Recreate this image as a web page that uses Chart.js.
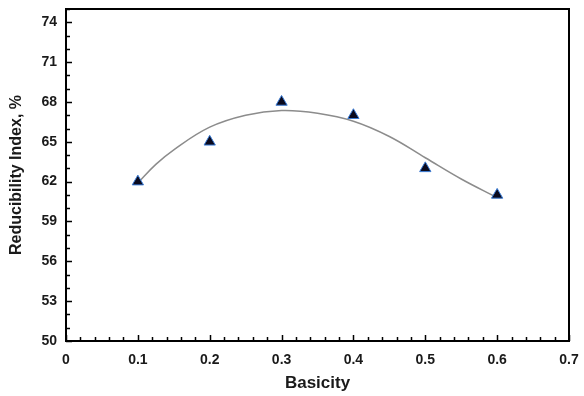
<!DOCTYPE html>
<html>
<head>
<meta charset="utf-8">
<script src="https://cdn.jsdelivr.net/npm/chart.js@4.4.1/dist/chart.umd.min.js"></script>
<style>
  html, body { margin: 0; padding: 0; background: #fff; }
  #wrap { width: 584px; height: 396px; position: relative; }
</style>
</head>
<body>
<div id="wrap"><canvas id="c" width="584" height="396"></canvas></div>
<script>
// ---- data ----
const basicity = [0.1, 0.2, 0.3, 0.4, 0.5, 0.6];
const reducibility = [62, 65, 68, 67, 63, 61];
// trend line as traced on the picture
const trendX = [0.10, 0.125, 0.15, 0.20, 0.25, 0.30, 0.35, 0.40, 0.45, 0.50, 0.55, 0.60];
const trendY = [61.9, 63.3, 64.4, 66.1, 67.0, 67.35, 67.15, 66.55, 65.4, 63.8, 62.2, 60.8];
const xTickValues = [0, 0.1, 0.2, 0.3, 0.4, 0.5, 0.6, 0.7];
const yTickValues = [50, 53, 56, 59, 62, 65, 68, 71, 74];
const xMinorStep = 0.02;
const yMinorStep = 1;

const labelFont = { family: 'Liberation Sans, Arial, sans-serif', size: 14, weight: 'bold' };

const frameTicks = {
  id: 'frameTicks',
  afterDatasetsDraw(chart) {
    const { ctx, chartArea: { left, right, top, bottom }, scales: { x, y } } = chart;
    ctx.save();
    ctx.strokeStyle = '#000';
    ctx.lineWidth = 1.5;
    ctx.beginPath();
    const nx = Math.round((x.max - x.min) / xMinorStep);
    for (let i = 0; i <= nx; i++) {
      const px = Math.round(x.getPixelForValue(x.min + i * xMinorStep)) + 0.5;
      const len = (i % 5 === 0) ? 6 : 4;
      ctx.moveTo(px, bottom);
      ctx.lineTo(px, bottom - len);
    }
    const ny = Math.round((y.max - y.min) / yMinorStep);
    for (let i = 0; i <= ny; i++) {
      const v = y.min + i * yMinorStep;
      const py = Math.round(y.getPixelForValue(v)) + 0.5;
      const len = yTickValues.includes(v) ? 6 : 4;
      ctx.moveTo(left, py);
      ctx.lineTo(left + len, py);
    }
    ctx.stroke();
    ctx.lineWidth = 2;
    ctx.strokeRect(left, top, right - left, bottom - top);
    ctx.restore();
  }
};

new Chart(document.getElementById('c'), {
  type: 'scatter',
  data: {
    datasets: [
      {
        label: 'Reducibility Index',
        data: basicity.map((b, i) => ({ x: b, y: reducibility[i] })),
        pointStyle: 'triangle',
        pointRadius: 6.5,
        pointBackgroundColor: '#0a0a1e',
        pointBorderColor: '#3a7bd5',
        pointBorderWidth: 1,
        showLine: false,
        order: 0
      },
      {
        label: 'Trend',
        data: trendX.map((b, i) => ({ x: b, y: trendY[i] })),
        showLine: true,
        borderColor: '#8c8c8c',
        borderWidth: 1.5,
        pointRadius: 0,
        tension: 0.4,
        fill: false,
        order: 1
      }
    ]
  },
  options: {
    responsive: false,
    animation: false,
    layout: { padding: { top: 9, right: 15, left: 0, bottom: 0 } },
    plugins: { legend: { display: false }, tooltip: { enabled: false } },
    scales: {
      x: {
        type: 'linear',
        min: 0, max: 0.7,
        afterBuildTicks(s) { s.ticks = xTickValues.map(v => ({ value: v })); },
        afterFit(s) { s.height = 55; s.paddingLeft = 0; s.paddingRight = 0; },
        grid: { display: false, drawTicks: false },
        border: { display: false },
        ticks: {
          padding: 11,
          color: '#1a1a1a',
          font: labelFont,
          maxRotation: 0,
          callback: v => (v === 0 ? '0' : v.toFixed(1))
        },
        title: {
          display: true,
          text: 'Basicity',
          color: '#1a1a1a',
          font: { family: 'Liberation Sans, Arial, sans-serif', size: 17, weight: 'bold' },
          padding: { top: 0, bottom: 2 }
        }
      },
      y: {
        type: 'linear',
        min: 50, max: 75,
        afterBuildTicks(s) { s.ticks = yTickValues.map(v => ({ value: v })); },
        afterFit(s) { s.width = 66; s.paddingTop = 0; s.paddingBottom = 0; },
        grid: { display: false, drawTicks: false },
        border: { display: false },
        ticks: {
          padding: 9,
          color: '#1a1a1a',
          font: labelFont,
          callback: v => String(v)
        },
        title: {
          display: true,
          text: 'Reducibility Index, %',
          color: '#1a1a1a',
          font: { family: 'Liberation Sans, Arial, sans-serif', size: 16, weight: 'bold' },
          padding: { top: 7, bottom: 0 }
        }
      }
    }
  },
  plugins: [frameTicks]
});
</script>
</body>
</html>
